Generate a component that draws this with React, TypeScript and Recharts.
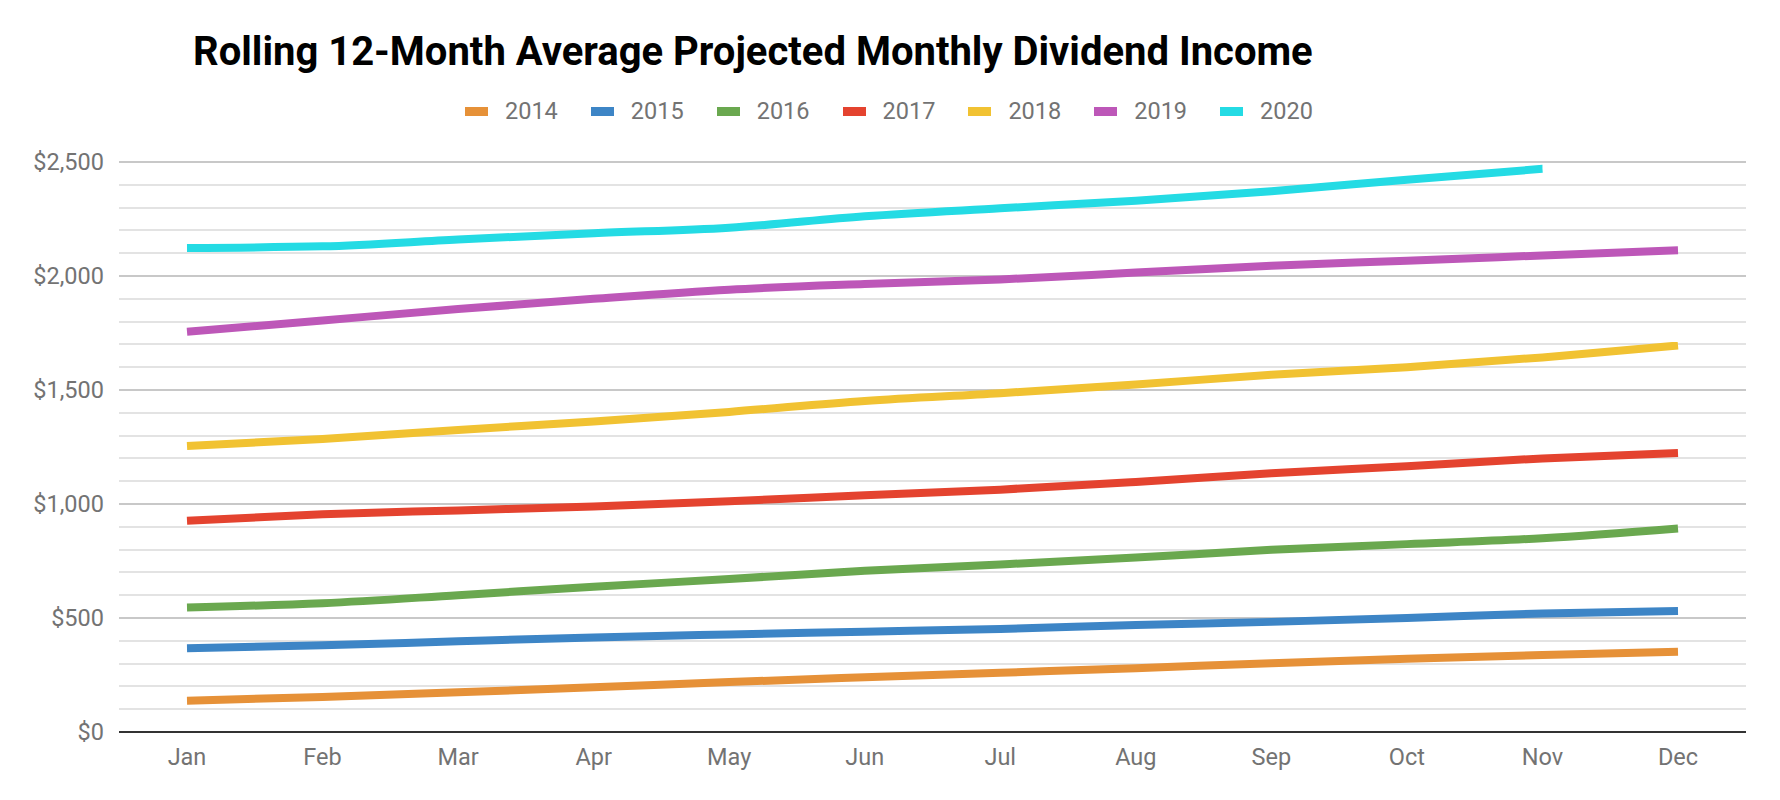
import React from 'react';
import { LineChart, Line, XAxis, YAxis, CartesianGrid } from 'recharts';

const months = ['Jan', 'Feb', 'Mar', 'Apr', 'May', 'Jun', 'Jul', 'Aug', 'Sep', 'Oct', 'Nov', 'Dec'];
const years = ['2014', '2015', '2016', '2017', '2018', '2019', '2020'];
const colors = ['#e69138', '#3d85c6', '#6aa84f', '#e4432f', '#f1c232', '#bd57b8', '#24dbe4'];

const income2014 = [137, 154, 174, 196, 219, 240, 260, 280, 302, 321, 338, 352];
const income2015 = [367, 380, 398, 415, 428, 440, 452, 469, 483, 500, 520, 531];
const income2016 = [546, 565, 600, 637, 671, 707, 735, 765, 799, 824, 850, 893];
const income2017 = [927, 955, 972, 989, 1012, 1038, 1063, 1097, 1135, 1166, 1200, 1224];
const income2018 = [1254, 1285, 1325, 1362, 1404, 1452, 1486, 1524, 1567, 1600, 1643, 1695];
const income2019 = [1755, 1805, 1855, 1900, 1940, 1965, 1985, 2015, 2045, 2067, 2090, 2113];
const income2020 = [2123, 2130, 2160, 2188, 2212, 2262, 2297, 2330, 2372, 2422, 2470, null];

const seriesValues = [income2014, income2015, income2016, income2017, income2018, income2019, income2020];

const majorTicks = [0, 500, 1000, 1500, 2000, 2500];
const minorTicks = [
  100, 200, 300, 400, 600, 700, 800, 900, 1100, 1200, 1300, 1400,
  1600, 1700, 1800, 1900, 2100, 2200, 2300, 2400,
];

const data = months.map((month, i) => {
  const row: Record<string, string | number | null> = { month };
  years.forEach((y, k) => {
    row[y] = seriesValues[k][i];
  });
  return row;
});

const FONT = 'Roboto, "Noto Sans", sans-serif';
const LABEL = '#737373';
const LABEL_SIZE = 23.5;

const formatDollar = (v: number) => '$' + v.toLocaleString('en-US');

export default function App() {
  return (
    <div style={{ position: 'absolute', left: 0, top: 0, width: 1780, height: 800, background: '#fff', fontFamily: FONT }}>
      <div
        style={{
          position: 'absolute',
          left: 193,
          top: 32,
          fontSize: 40,
          lineHeight: '40px',
          fontWeight: 700,
          color: '#000',
          whiteSpace: 'nowrap',
        }}
      >
        Rolling 12-Month Average Projected Monthly Dividend Income
      </div>

      <div style={{ position: 'absolute', left: 465, top: 99, display: 'flex', alignItems: 'center', height: 24 }}>
        {years.map((y, k) => (
          <div key={y} style={{ display: 'flex', alignItems: 'center', marginRight: 33 }}>
            <span style={{ display: 'inline-block', width: 23, height: 9, background: colors[k], marginRight: 17 }} />
            <span style={{ fontSize: LABEL_SIZE, lineHeight: '24px', color: LABEL }}>{y}</span>
          </div>
        ))}
      </div>

      <div style={{ position: 'absolute', left: 0, top: 0 }}>
        <LineChart width={1780} height={800} data={data} margin={{ top: 162, right: 34, left: 0, bottom: 38 }}>
          <CartesianGrid
            vertical={false}
            horizontalValues={minorTicks}
            stroke="#e3e3e3"
            strokeWidth={2}
            shapeRendering="crispEdges"
          />
          <CartesianGrid
            vertical={false}
            horizontalValues={majorTicks}
            stroke="#c8c8c8"
            strokeWidth={2}
            shapeRendering="crispEdges"
          />
          <XAxis
            dataKey="month"
            padding={{ left: 68, right: 68 }}
            axisLine={{ stroke: '#333', strokeWidth: 2 }}
            tickLine={false}
            tickMargin={10}
            tick={{ fill: LABEL, fontSize: LABEL_SIZE, fontFamily: FONT }}
          />
          <YAxis
            domain={[0, 2500]}
            ticks={majorTicks}
            interval={0}
            width={119}
            axisLine={false}
            tickLine={false}
            tickMargin={9}
            tickFormatter={formatDollar}
            tick={{ fill: LABEL, fontSize: LABEL_SIZE, fontFamily: FONT }}
          />
          {years.map((y, k) => (
            <Line
              key={y}
              type="monotone"
              dataKey={y}
              stroke={colors[k]}
              strokeWidth={8}
              strokeLinecap="butt"
              dot={false}
              activeDot={false}
              isAnimationActive={false}
            />
          ))}
        </LineChart>
      </div>
    </div>
  );
}
